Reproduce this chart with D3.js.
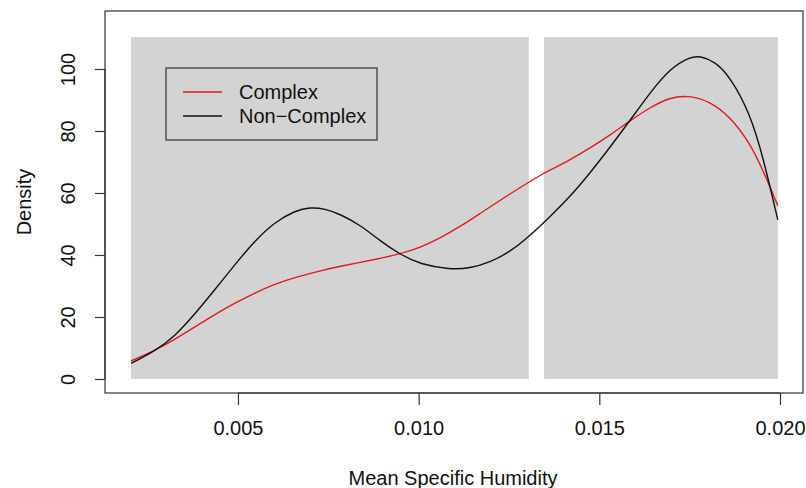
<!DOCTYPE html>
<html><head><meta charset="utf-8">
<script src="https://cdn.jsdelivr.net/npm/d3@7"></script>
<style>body{margin:0;background:#fff}svg{display:block;font-family:"Liberation Sans",Arial,Helvetica,sans-serif}</style>
</head><body><svg id="c" width="806" height="488"></svg>
<script>
// Data
const xComplex = [0.00204,0.00270,0.00326,0.00381,0.00436,0.00492,0.00547,0.00602,0.00658,0.00741,0.00782,0.00838,0.00893,0.00948,0.01004,0.01059,0.01114,0.01170,0.01225,0.01280,0.01336,0.01364,0.01419,0.01474,0.01530,0.01585,0.01640,0.01696,0.01745,0.01806,0.01862,0.01917,0.01953,0.01994];
const yComplex = [5.8,9.2,12.8,16.8,20.8,24.5,27.8,30.6,32.8,35.3,36.3,37.6,38.9,40.3,42.4,45.4,49.1,53.4,57.6,61.7,65.7,67.4,70.7,74.5,78.7,83.3,87.6,90.8,91.5,89.6,84.6,76.0,67.4,55.9];
const xNonComplex = [0.00204,0.00270,0.00326,0.00381,0.00436,0.00492,0.00547,0.00602,0.00658,0.00699,0.00741,0.00782,0.00838,0.00893,0.00948,0.01004,0.01087,0.01142,0.01197,0.01253,0.01308,0.01364,0.01419,0.01474,0.01530,0.01585,0.01640,0.01696,0.01751,0.01779,0.01820,0.01862,0.01917,0.01953,0.01994];
const yNonComplex = [5.0,9.0,13.8,21.0,28.8,37.0,44.6,50.6,54.3,55.4,54.9,53.2,49.7,44.6,40.2,37.0,35.3,35.7,37.6,41.0,46.2,52.4,58.8,66.4,74.8,83.4,92.3,100.2,103.9,104.2,102.4,97.5,85.7,71.7,51.3];
const shadeStart = [0.00204, 0.01347];
const shadeEnd = [0.01305, 0.01994];
const shadeTop = 110.3;
const xTicks = [0.005, 0.010, 0.015, 0.020];
const yTicks = [0, 20, 40, 60, 80, 100];
const seriesNames = ["Complex", "Non\u2212Complex"];
const seriesColors = ["#e31a1c", "#111111"];

const svg = d3.select("#c");
const L = 105, R = 803, T = 11, B = 393;
const x = d3.scaleLinear().domain([0.001320, 0.020637]).range([L, R]);
const y = d3.scaleLinear().domain([-4.52, 118.7]).range([B, T]);
const FS = 20;

// shaded rectangles
svg.selectAll("rect.shade").data(shadeStart.map((s,i)=>({s, e: shadeEnd[i]})))
  .enter().append("rect")
  .attr("x", d => x(d.s)).attr("width", d => x(d.e) - x(d.s))
  .attr("y", y(shadeTop)).attr("height", y(0) - y(shadeTop))
  .attr("fill", "#d3d3d3");

// lines
const line = d3.line().x(d => x(d[0])).y(d => y(d[1])).curve(d3.curveBasis);
const series = [d3.zip(xComplex, yComplex), d3.zip(xNonComplex, yNonComplex)];
series.forEach((s, i) => {
  svg.append("path").datum(s).attr("d", line).attr("fill", "none")
    .attr("stroke", seriesColors[i]).attr("stroke-width", 1.4);
});

// box
svg.append("rect").attr("x", L).attr("y", T).attr("width", R - L).attr("height", B - T)
  .attr("fill", "none").attr("stroke", "#333").attr("stroke-width", 1.2);

// x axis
const xAxis = d3.axisBottom(x).tickValues(xTicks).tickFormat(d3.format(".3f")).tickSizeOuter(0).tickSize(12).tickPadding(16);
const gx = svg.append("g").attr("transform", `translate(0,${B})`).call(xAxis);
gx.select(".domain").attr("d", `M${x(xTicks[0])},0H${x(xTicks[xTicks.length-1])}`).attr("stroke", "#333").attr("stroke-width", 1.2);
gx.selectAll(".tick line").attr("stroke", "#333").attr("stroke-width", 1.2);
gx.selectAll(".tick text").attr("font-size", FS).attr("font-family", "Liberation Sans, Arial, sans-serif").attr("fill", "#111");

// y axis
const yAxis = d3.axisLeft(y).tickValues(yTicks).tickSizeOuter(0).tickSize(10).tickPadding(8);
const gy = svg.append("g").attr("transform", `translate(${L},0)`).call(yAxis);
gy.select(".domain").attr("d", `M0,${y(yTicks[0])}V${y(yTicks[yTicks.length-1])}`).attr("stroke", "#333").attr("stroke-width", 1.2);
gy.selectAll(".tick line").attr("stroke", "#333").attr("stroke-width", 1.2);
gy.selectAll(".tick text").attr("font-size", FS).attr("font-family", "Liberation Sans, Arial, sans-serif").attr("fill", "#111")
  .attr("x", 0).attr("y", 0).attr("dy", "0").attr("text-anchor", "middle")
  .attr("transform", "translate(-30,0) rotate(-90)");

// axis titles
svg.append("text").attr("x", (L + R) / 2 - 1).attr("y", 485).attr("text-anchor", "middle")
  .attr("font-size", FS).attr("fill", "#111").text("Mean Specific Humidity");
svg.append("text").attr("transform", `translate(31,${(T + B) / 2}) rotate(-90)`).attr("text-anchor", "middle")
  .attr("font-size", FS).attr("fill", "#111").text("Density");

// legend
const lg = svg.append("g");
lg.append("rect").attr("x", 166).attr("y", 68).attr("width", 211).attr("height", 72)
  .attr("fill", "none").attr("stroke", "#333").attr("stroke-width", 1.2);
seriesNames.forEach((n, i) => {
  const yy = 92 + i * 24;
  lg.append("line").attr("x1", 183).attr("x2", 222).attr("y1", yy).attr("y2", yy)
    .attr("stroke", seriesColors[i]).attr("stroke-width", 1.6);
  lg.append("text").attr("x", 239).attr("y", yy).attr("dy", "0.35em").attr("font-size", FS)
    .attr("fill", "#111").text(n);
});
</script></body></html>
